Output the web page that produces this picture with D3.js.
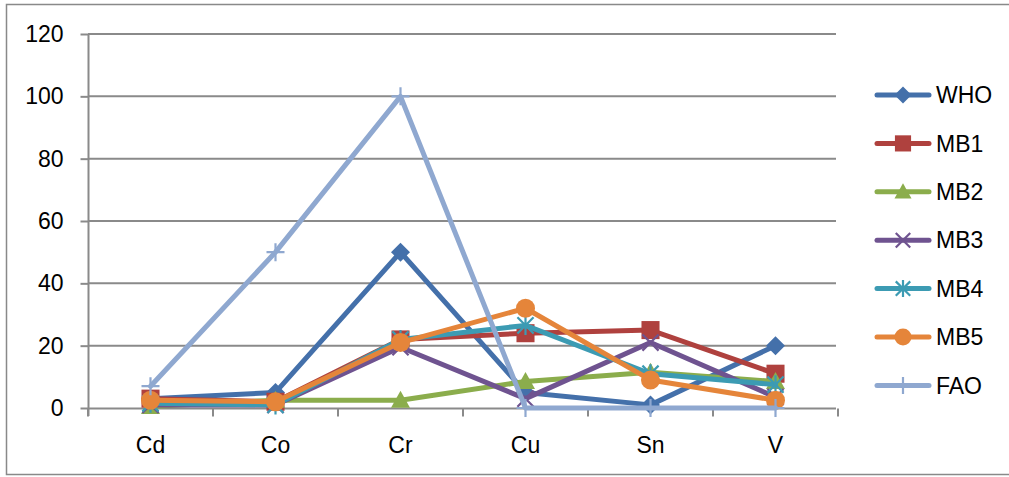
<!DOCTYPE html>
<html><head><meta charset="utf-8">
<script src="https://cdn.jsdelivr.net/npm/d3@7"></script>
<style>
html,body{margin:0;padding:0;background:#fff;}
text{font-family:"Liberation Sans",Arial,sans-serif;fill:#000;}
</style></head>
<body>
<svg id="chart" width="1009" height="477"></svg>
<script>
const categories = ["Cd","Co","Cr","Cu","Sn","V"];
const seriesNames = ["WHO","MB1","MB2","MB3","MB4","MB5","FAO"];
const WHO = [3, 5, 50, 5, 1, 20];
const MB1 = [3, 2, 22, 24, 25, 11];
const MB2 = [0.5, 2.5, 2.5, 8.5, 11.5, 8.5];
const MB3 = [1, 1, 19.5, 3, 21, 3.5];
const MB4 = [1.5, 1, 22, 26.5, 11, 7.5];
const MB5 = [2.5, 2, 21, 32, 9, 2.5];
const FAO = [7, 50, 100, 0, 0, 0];
const yTicks = [0, 20, 40, 60, 80, 100, 120];
const colors = ["#4470AA","#AF413E","#8BAD4C","#6F5390","#3C9BB3","#E5853A","#8FA8D0"];
const markers = ["diamond","square","triangle","x","star","circle","plus"];
const values = [WHO, MB1, MB2, MB3, MB4, MB5, FAO];

const svg = d3.select("#chart");
svg.append("rect").attr("x",6.5).attr("y",4.5).attr("width",1010).attr("height",470)
  .attr("fill","none").attr("stroke","#898989").attr("stroke-width",1.5);

const x = d3.scaleBand().domain(categories).range([88, 838]).padding(0);
const y = d3.scaleLinear().domain([0,120]).range([408, 34]);
const cx = c => x(c) + x.bandwidth()/2;

// gridlines
svg.append("g").selectAll("line").data(yTicks.filter(t=>t>0)).join("line")
  .attr("x1",88).attr("x2",836).attr("y1",d=>y(d)).attr("y2",d=>y(d))
  .attr("stroke","#8a8a8a").attr("stroke-width",2);

// y axis
const yAxis = svg.append("g").attr("transform","translate(88.5,0)")
  .call(d3.axisLeft(y).tickValues(yTicks).tickSize(8).tickPadding(17).tickSizeOuter(0));
yAxis.select(".domain").attr("stroke","#8a8a8a").attr("stroke-width",2).attr("d","M0,34V416");
yAxis.selectAll(".tick line").attr("stroke","#8a8a8a").attr("stroke-width",2);
yAxis.selectAll("text").attr("font-size",23).attr("font-family","Liberation Sans, Arial, sans-serif").attr("fill","#000");

// x axis
const xAxis = svg.append("g").attr("transform","translate(0,408.5)")
  .call(d3.axisBottom(x).tickSize(0).tickPadding(28).tickSizeOuter(0));
xAxis.select(".domain").attr("stroke","#8a8a8a").attr("stroke-width",2).attr("d","M88,0H836");
xAxis.selectAll("text").attr("font-size",23).attr("font-family","Liberation Sans, Arial, sans-serif").attr("fill","#000");
const bounds = categories.map(c=>x(c)).concat([x(categories[categories.length-1])+x.bandwidth()]);
xAxis.append("g").selectAll("line").data(bounds).join("line")
  .attr("x1",d=>d).attr("x2",d=>d).attr("y1",0).attr("y2",8)
  .attr("stroke","#8a8a8a").attr("stroke-width",2);

function drawMarker(g, type, px, py, color, s) {
  const h = s/2;
  if (type==="diamond") {
    g.append("path").attr("d",`M${px},${py-h}L${px+h},${py}L${px},${py+h}L${px-h},${py}Z`).attr("fill",color);
  } else if (type==="square") {
    g.append("rect").attr("x",px-h*0.95).attr("y",py-h*0.95).attr("width",h*1.9).attr("height",h*1.9).attr("fill",color);
  } else if (type==="triangle") {
    g.append("path").attr("d",`M${px},${py-h}L${px+h},${py+h*0.8}L${px-h},${py+h*0.8}Z`).attr("fill",color);
  } else if (type==="circle") {
    g.append("circle").attr("cx",px).attr("cy",py).attr("r",h).attr("fill",color);
  } else if (type==="x") {
    const a = h*0.85;
    g.append("path").attr("d",`M${px-a},${py-a}L${px+a},${py+a}M${px+a},${py-a}L${px-a},${py+a}`)
      .attr("stroke",color).attr("stroke-width",2.2).attr("fill","none");
  } else if (type==="star") {
    const a = h*0.85;
    g.append("path").attr("d",`M${px-a},${py-a}L${px+a},${py+a}M${px+a},${py-a}L${px-a},${py+a}M${px},${py-h}L${px},${py+h}`)
      .attr("stroke",color).attr("stroke-width",2.2).attr("fill","none");
  } else if (type==="plus") {
    g.append("path").attr("d",`M${px-h},${py}L${px+h},${py}M${px},${py-h}L${px},${py+h}`)
      .attr("stroke",color).attr("stroke-width",2.2).attr("fill","none");
  }
}

const line = d3.line().x((d,i)=>cx(categories[i])).y(d=>y(d));
values.forEach((vals, si) => {
  const g = svg.append("g");
  g.append("path").attr("d", line(vals)).attr("fill","none").attr("stroke",colors[si])
    .attr("stroke-width",5).attr("stroke-linejoin","round").attr("stroke-linecap","round");
  vals.forEach((v,i) => drawMarker(g, markers[si], cx(categories[i]), y(v), colors[si], markers[si]==="plus"?18:19));
});

// legend
const legend = svg.append("g");
seriesNames.forEach((name, si) => {
  const ly = 95 + si*48.4;
  const g = legend.append("g");
  g.append("line").attr("x1",877).attr("x2",929).attr("y1",ly).attr("y2",ly)
    .attr("stroke",colors[si]).attr("stroke-width",5).attr("stroke-linecap","round");
  drawMarker(g, markers[si], 903, ly, colors[si], 17);
  g.append("text").attr("x",936).attr("y",ly).attr("dy","0.36em").attr("font-size",23).text(name);
});
</script>
</body></html>
